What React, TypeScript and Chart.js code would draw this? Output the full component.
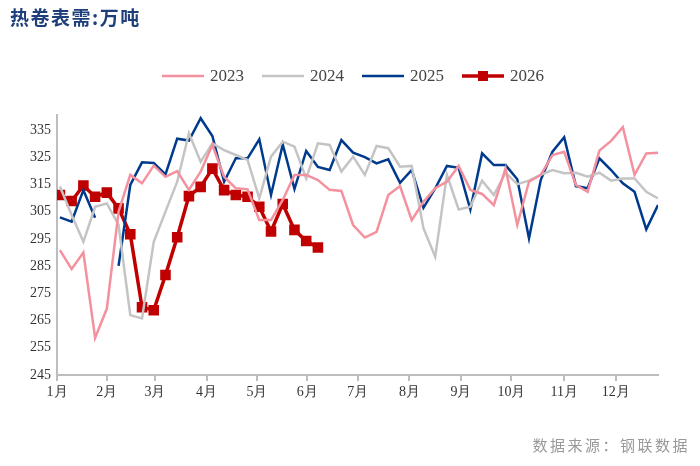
import React, { useEffect, useRef } from "react";
import { Chart, registerables } from "chart.js";
Chart.register(...registerables);

const monthLabels = ["1月","2月","3月","4月","5月","6月","7月","8月","9月","10月","11月","12月"];
const monthPos = [-0.25, 4.0, 8.1, 12.5, 16.8, 21.1, 25.4, 29.8, 34.2, 38.5, 43.0, 47.4];
const yTicks = [245,255,265,275,285,295,305,315,325,335];

const s2023 = [290.9,283.9,290,258.6,269.4,305,318.5,315.4,321.9,317.8,319.9,313,319.7,329.5,317.8,313.6,313.2,301.9,301.9,309.3,318.5,318.5,316.6,313,312.6,300.1,295.5,297.6,311.1,314.4,301.9,308.6,313.6,316,321.8,313,311.5,307.4,320.9,300.1,316,318.5,325.8,327,314.8,312.3,327.4,331,336,318.5,326.4,326.6];
const s2024 = [314.2,303.8,293.9,306.8,308,300.1,267,265.8,293.9,305,316,333.8,323.3,330.1,327.6,325.8,324,309.9,325.2,330.7,328.9,317.2,330.1,329.5,319.7,325.2,318.5,329.1,328.3,321.5,321.8,298.9,288.4,318.5,305.8,306.8,316.4,311.1,319.3,315.1,316.4,318.5,320.3,319.1,319.3,317.8,319.3,316.4,317.2,317.2,312.3,309.9];
const s2025 = [302.9,301.3,312.9,302.8,null,285.1,314.8,323.1,322.9,318.7,331.8,331.1,339.3,332.8,316,324.6,324.6,331.6,311.1,329.7,313.3,327.3,321.4,320.3,331.3,326.7,325,322.7,324.2,315.6,320.3,306.4,313.5,321.8,321.1,305.8,326.4,322.1,322.1,316.9,295.2,316.6,327,332.3,314.4,313.6,324.6,320.3,315.4,312.3,298.5,307.4];
const s2026 = [311.1,308.9,314.6,310.5,312,306.2,296.7,269.9,268.8,281.7,295.6,310.7,314.1,320.8,312.9,311.1,310.5,306.8,297.7,307.8,298.3,294.2,291.8];

const toXY = (arr: (number | null)[]) => arr.map((v, i) => ({ x: i, y: v }));

export default function App() {
  const ref = useRef<HTMLCanvasElement>(null);
  useEffect(() => {
    const serif = "'Liberation Serif', 'Times New Roman', serif";
    const chart = new Chart(ref.current!, {
      type: "line",
      data: {
        datasets: [
          { label: "2023", data: toXY(s2023), borderColor: "#f4919e", borderWidth: 2.5, pointRadius: 0, spanGaps: false },
          { label: "2024", data: toXY(s2024), borderColor: "#c4c4c4", borderWidth: 2.5, pointRadius: 0 },
          { label: "2025", data: toXY(s2025), borderColor: "#003a8c", borderWidth: 2.5, pointRadius: 0, spanGaps: false },
          { label: "2026", data: toXY(s2026), borderColor: "#c00000", backgroundColor: "#c00000", borderWidth: 3.5, pointRadius: 5, pointStyle: "rect" },
        ] as any,
      },
      options: {
        animation: false,
        responsive: false,
        layout: { padding: { top: 115, right: 42, left: 10, bottom: 0 } },
        plugins: { legend: { display: false }, tooltip: { enabled: false } },
        scales: {
          x: {
            type: "linear",
            min: -0.25,
            max: 51,
            afterBuildTicks: (s: any) => { s.ticks = monthPos.map((v) => ({ value: v })); },
            ticks: {
              autoSkip: false, maxRotation: 0, color: "#333", font: { family: serif, size: 14 },
              callback: (_v: any, i: number) => monthLabels[i],
            },
            grid: { display: true, drawOnChartArea: false, drawTicks: true, tickLength: 6, color: "#bdbdbd", lineWidth: 2 },
            border: { color: "#bdbdbd", width: 2 },
            afterFit: (s: any) => { s.height = 91; },
          },
          y: {
            min: 245,
            max: 340.5,
            afterBuildTicks: (s: any) => { s.ticks = yTicks.map((v) => ({ value: v })); },
            ticks: { color: "#333", font: { family: serif, size: 14 }, padding: 6 },
            grid: { display: false, drawTicks: false },
            border: { color: "#bdbdbd", width: 2 },
            afterFit: (s: any) => { s.width = 47; },
          },
        },
      },
    });
    return () => chart.destroy();
  }, []);

  const legendItem = (label: string, color: string, square = false) => (
    <div style={{ display: "flex", alignItems: "center", marginRight: 18 }}>
      <svg width="42" height="14" style={{ marginRight: 6 }}>
        <line x1="0" y1="7" x2="42" y2="7" stroke={color} strokeWidth={square ? 3.5 : 2.5} />
        {square && <rect x="16" y="2" width="10" height="10" fill={color} />}
      </svg>
      <span>{label}</span>
    </div>
  );

  return (
    <div style={{ position: "fixed", left: 0, top: 0, width: 700, height: 466, background: "#fff", overflow: "hidden" }}>
      <canvas ref={ref} width={700} height={466} style={{ position: "absolute", left: 0, top: 0 }} />
      <div style={{ position: "absolute", left: 10, top: 3, fontFamily: "'Noto Sans CJK SC', sans-serif", fontWeight: 700, fontSize: 19, letterSpacing: 1.5, color: "#1f3f7a" }}>
        热卷表需:万吨
      </div>
      <div style={{ position: "absolute", left: 162, top: 66, display: "flex", fontFamily: "'Liberation Serif', serif", fontSize: 17, color: "#444" }}>
        {legendItem("2023", "#f4919e")}
        {legendItem("2024", "#c4c4c4")}
        {legendItem("2025", "#003a8c")}
        {legendItem("2026", "#c00000", true)}
      </div>
      <div style={{ position: "absolute", right: 10, top: 434, fontFamily: "'Noto Sans CJK SC', sans-serif", fontSize: 15, letterSpacing: 2.5, color: "#999" }}>
        数据来源：钢联数据
      </div>
    </div>
  );
}
